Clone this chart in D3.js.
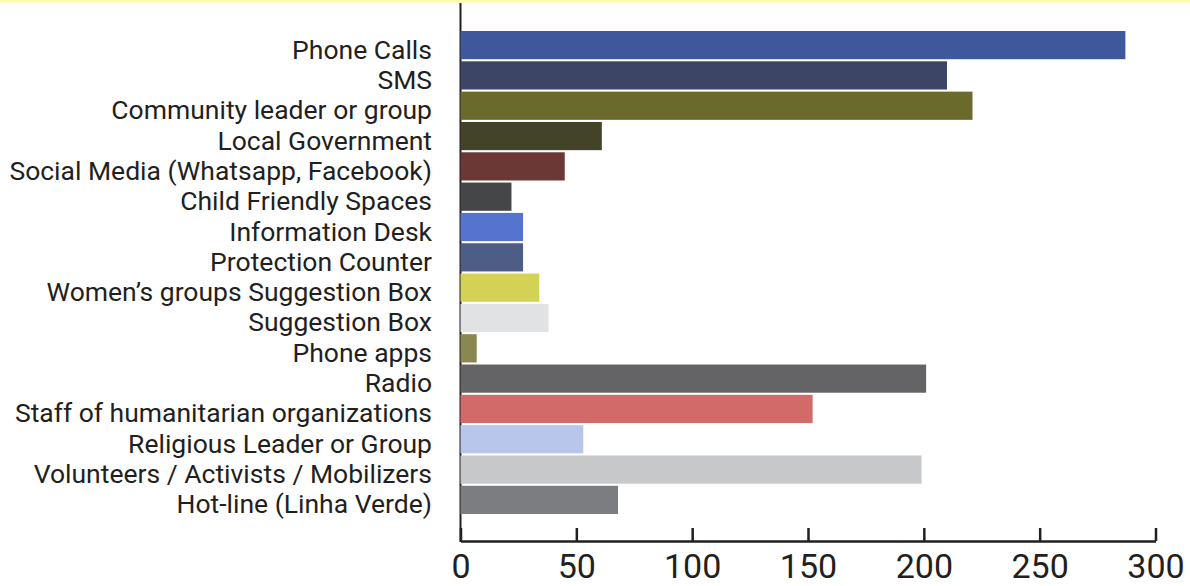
<!DOCTYPE html>
<html>
<head>
<meta charset="utf-8">
<script src="https://cdn.jsdelivr.net/npm/d3@7"></script>
<style>
  body { margin: 0; background: #fff; }
  svg { display: block; }
</style>
</head>
<body>
<svg id="chart"></svg>
<script>
const categories = [
  'Phone Calls',
  'SMS',
  'Community leader or group',
  'Local Government',
  'Social Media (Whatsapp, Facebook)',
  'Child Friendly Spaces',
  'Information Desk',
  'Protection Counter',
  'Women\u2019s groups Suggestion Box',
  'Suggestion Box',
  'Phone apps',
  'Radio',
  'Staff of humanitarian organizations',
  'Religious Leader or Group',
  'Volunteers / Activists / Mobilizers',
  'Hot-line (Linha Verde)'
];
const values = [287, 210, 221, 61, 45, 22, 27, 27, 34, 38, 7, 201, 152, 53, 199, 68];
const colors = [
  '#3f589c', '#3c4566', '#6a6a2c', '#43432a', '#6b3836', '#454648',
  '#5574d0', '#4d5d86', '#d3d255', '#e1e2e3', '#888850', '#646466',
  '#d26a69', '#b8c6eb', '#c7c8ca', '#7c7d80'
];
const xTicks = [0, 50, 100, 150, 200, 250, 300];

const W = 1190, H = 586;
const ink = '#231f20';

const svg = d3.select('#chart').attr('width', W).attr('height', H);

// pale yellow strip along the top edge
svg.append('rect')
  .attr('x', 0).attr('y', 0)
  .attr('width', W).attr('height', 2.5)
  .attr('fill', '#fffaa8');

const x = d3.scaleLinear()
  .domain([0, 300])
  .range([460.5, 1155.5]);

const y = d3.scaleBand()
  .domain(categories)
  .range([31, 514])
  .paddingInner(0.07);

// vertical axis line (drawn under the bars)
svg.append('line')
  .attr('x1', x(0)).attr('x2', x(0))
  .attr('y1', 3).attr('y2', 542)
  .attr('stroke', ink)
  .attr('stroke-width', 2);

// x axis
const xAxis = svg.append('g')
  .attr('transform', 'translate(0, 541)')
  .call(d3.axisBottom(x).tickValues(xTicks).tickSize(-13).tickSizeOuter(0));

xAxis.select('.domain')
  .attr('stroke', ink)
  .attr('stroke-width', 2.5);
xAxis.selectAll('.tick line')
  .attr('stroke', ink)
  .attr('stroke-width', 2.5);
xAxis.selectAll('.tick text')
  .attr('y', 37)
  .attr('dy', 0)
  .attr('fill', ink)
  .attr('font-family', 'Roboto, sans-serif')
  .attr('font-size', 34);

// bars
svg.selectAll('rect.bar')
  .data(categories)
  .enter()
  .append('rect')
  .attr('class', 'bar')
  .attr('x', x(0))
  .attr('y', d => y(d))
  .attr('width', (d, i) => x(values[i]) - x(0))
  .attr('height', y.bandwidth())
  .attr('fill', (d, i) => colors[i]);

// category labels
svg.selectAll('text.label')
  .data(categories)
  .enter()
  .append('text')
  .attr('class', 'label')
  .attr('x', 432)
  .attr('y', d => y(d) + y.bandwidth() / 2 + 13.5)
  .attr('text-anchor', 'end')
  .attr('fill', ink)
  .attr('font-family', 'Roboto, sans-serif')
  .attr('font-size', 26.5)
  .text(d => d);
</script>
</body>
</html>
